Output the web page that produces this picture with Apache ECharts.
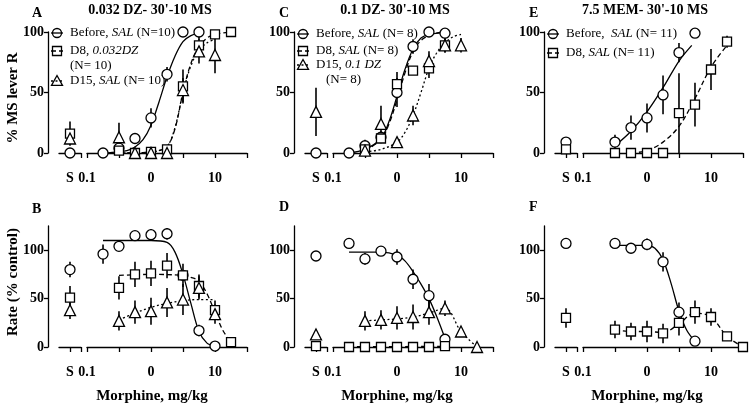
<!DOCTYPE html>
<html><head><meta charset="utf-8">
<script src="https://cdn.jsdelivr.net/npm/echarts@6/dist/echarts.min.js"></script>
<style>html,body{margin:0;padding:0;background:#fff}#c{width:750px;height:409px}</style>
</head><body><div id="c"></div>
<script>
// ---------- shared axis data ----------
const doses = [0.178, 0.316, 0.562, 1, 1.78, 3.16, 5.62, 10, 17.8, 31.6];
const xTickValues = [0.1, 1, 10];
const xTickLabels = ['0.1', '0', '10'];
const xTickMarks = [0.1, 0.316, 1, 3.16, 10, 31.6];
const yTickValues = [0, 50, 100];
const sLabel = 'S';
const panelLetters = ['A', 'B', 'C', 'D', 'E', 'F'];
const panelTitles = ["0.032 DZ- 30'-10 MS", "0.1 DZ- 30'-10 MS", "7.5 MEM- 30'-10 MS"];
const yTitles = ['% MS lever R', 'Rate (% control)'];
const xTitle = 'Morphine, mg/kg';

// ---------- Panel A ----------
const aBeforeS = [0, 0];
const aBeforeX = [0.178, 0.316, 0.562, 1, 1.78, 3.16, 5.62];
const aBeforeY = [0, 4, 12, 29, 65, 100, 100];
const aBeforeE = [0, 0, 4, 8, 6, 0, 0];
const aBeforeFitX = [0.178, 0.316, 0.42, 0.562, 0.75, 1, 1.33, 1.78, 2.37, 3.16, 4.2, 5.62];
const aBeforeFitY = [0, 1, 2, 5, 11, 23, 42, 63, 80, 92, 97, 99];
const aD8S = [16, 10];
const aD8X = [0.316, 0.562, 1, 1.78, 3.16, 5.62, 10, 17.8];
const aD8Y = [2, 0, 1, 3, 55, 89, 98, 100];
const aD8E = [0, 0, 0, 0, 14, 8, 3, 0];
const aD8FitX = [0.316, 0.562, 1, 1.33, 1.78, 2.37, 3.16, 4.2, 5.62, 7.5, 10, 17.8];
const aD8FitY = [0, 0, 1, 2, 5, 20, 50, 74, 88, 95, 98, 100];
const aD15S = [12, 5];
const aD15X = [0.316, 0.562, 1, 1.78, 3.16, 5.62, 10];
const aD15Y = [13, 0, 0, 0, 52, 84, 81];
const aD15E = [12, 0, 0, 0, 10, 10, 15];
const aD15FitX = [0.316, 0.562, 1, 1.33, 1.78, 2.37, 3.16, 4.2, 5.62, 7.5, 10];
const aD15FitY = [0, 0, 1, 2, 5, 21, 50, 72, 85, 91, 94];

// ---------- Panel B ----------
const bBeforeS = [80, 8];
const bBeforeX = [0.178, 0.316, 0.562, 1, 1.78, 3.16, 5.62, 10];
const bBeforeY = [96, 104, 115, 116, 117, 74, 17, 1];
const bBeforeE = [10, 3, 4, 6, 6, 0, 6, 0];
const bBeforeFitX = [0.178, 0.562, 1, 1.78, 2.37, 3.16, 4.2, 5.62, 7.5, 10];
const bBeforeFitY = [110, 110, 110, 108, 98, 75, 45, 16, 4, 1];
const bD8S = [51, 12];
const bD8X = [0.316, 0.562, 1, 1.78, 3.16, 5.62, 10, 17.8];
const bD8Y = [61, 75, 76, 84, 74, 63, 38, 5];
const bD8E = [12, 13, 13, 13, 12, 12, 10, 0];
const bD8FitX = [0.316, 1, 3.16, 4.2, 5.62, 7.5, 10, 13.3, 17.8];
const bD8FitY = [74, 75, 74, 72, 68, 55, 36, 17, 5];
const bD15S = [38, 9];
const bD15X = [0.316, 0.562, 1, 1.78, 3.16, 5.62, 10];
const bD15Y = [27, 36, 37, 46, 49, 61, 34];
const bD15E = [10, 12, 14, 15, 16, 12, 10];
const bD15FitX = [0.316, 0.562, 1, 1.78, 3.16, 5.62, 10];
const bD15FitY = [28, 35, 41, 45, 48, 49, 49];

// ---------- Panel C ----------
const cBeforeS = [0, 0];
const cBeforeX = [0.178, 0.316, 0.562, 1, 1.78, 3.16, 5.62];
const cBeforeY = [0, 6, 13, 50, 88, 100, 99];
const cBeforeE = [0, 5, 5, 12, 6, 0, 0];
const cBeforeFitX = [0.178, 0.316, 0.562, 0.75, 1, 1.33, 1.78, 2.37, 3.16, 4.2, 5.62];
const cBeforeFitY = [0, 3, 12, 26, 47, 69, 86, 95, 98, 99, 100];
const cD8X = [0.316, 0.562, 1, 1.78, 3.16, 5.62];
const cD8Y = [3, 12, 57, 68, 70, 89];
const cD8E = [0, 0, 10, 0, 8, 6];
const cD8FitX = [0.316, 0.562, 0.75, 1, 1.33, 1.78, 2.37, 3.16, 4.2, 5.62];
const cD8FitY = [2, 11, 24, 44, 66, 84, 93, 97, 99, 100];
const cD15S = [34, 20];
const cD15X = [0.316, 0.562, 1, 1.78, 3.16, 5.62, 10];
const cD15Y = [2, 24, 9, 31, 76, 89, 89];
const cD15E = [0, 15, 3, 8, 8, 6, 6];
const cD15FitX = [0.316, 0.562, 1, 1.33, 1.78, 2.37, 3.16, 4.2, 5.62, 7.5, 10];
const cD15FitY = [1, 3, 9, 17, 31, 50, 70, 83, 91, 96, 98];

// ---------- Panel D ----------
const dBeforeS = [94, 0];
const dBeforeX = [0.178, 0.316, 0.562, 1, 1.78, 3.16, 5.62];
const dBeforeY = [107, 91, 99, 93, 70, 53, 8];
const dBeforeE = [0, 6, 0, 8, 10, 12, 3];
const dBeforeFitX = [0.178, 0.316, 0.562, 1, 1.33, 1.78, 2.37, 3.16, 4.2, 5.62];
const dBeforeFitY = [98, 98, 98, 95, 89, 78, 65, 50, 31, 9];
const dD8S = [1, 0];
const dD8X = [0.178, 0.316, 0.562, 1, 1.78, 3.16, 5.62];
const dD8Y = [0, 0, 0, 0, 0, 0, 1];
const dD8E = [0, 0, 0, 0, 0, 0, 0];
const dD8FitX = [0.178, 5.62];
const dD8FitY = [0.3, 0.6];
const dD15S = [13, 5];
const dD15X = [0.316, 0.562, 1, 1.78, 3.16, 5.62, 10, 17.8];
const dD15Y = [27, 28, 30, 31, 36, 40, 16, 0];
const dD15E = [10, 10, 12, 13, 13, 8, 0, 0];
const dD15FitX = [0.316, 0.562, 1, 1.78, 3.16, 5.62, 10, 17.8];
const dD15FitY = [27, 28, 29, 31, 35, 40, 16, 0];

// ---------- Panel E ----------
const eBeforeS = [9, 3];
const eBeforeX = [0.316, 0.562, 1, 1.78, 3.16, 5.62];
const eBeforeY = [9, 21, 29, 48, 83, 99];
const eBeforeE = [6, 10, 12, 16, 8, 0];
const eBeforeFitX = [0.316, 0.562, 1, 1.78, 3.16, 5.0];
const eBeforeFitY = [6, 18, 34, 54, 76, 89];
const eD8S = [3, 0];
const eD8X = [0.316, 0.562, 1, 1.78, 3.16, 5.62, 10, 17.8];
const eD8Y = [0, 0, 0, 0, 33, 40, 69, 92];
const eD8E = [0, 0, 0, 0, 33, 18, 17, 5];
const eD8FitX = [0.562, 1, 1.78, 3.16, 5.62, 10, 17.8];
const eD8FitY = [0, 2, 9, 22, 45, 71, 89];

// ---------- Panel F ----------
const fBeforeS = [107, 0];
const fBeforeX = [0.316, 0.562, 1, 1.78, 3.16, 5.62];
const fBeforeY = [107, 102, 106, 88, 36, 6];
const fBeforeE = [0, 0, 6, 10, 10, 0];
const fBeforeFitX = [0.316, 0.562, 1, 1.33, 1.78, 2.37, 3.16, 4.2, 5.62];
const fBeforeFitY = [105, 105, 105, 102, 90, 66, 37, 17, 6];
const fD8S = [30, 10];
const fD8X = [0.316, 0.562, 1, 1.78, 3.16, 5.62, 10, 17.8, 31.6];
const fD8Y = [18, 16, 16, 14, 25, 36, 31, 11, 0];
const fD8E = [9, 9, 11, 10, 13, 12, 9, 4, 0];
const fD8FitX = [0.316, 0.562, 1, 1.78, 3.16, 5.62, 10, 17.8, 31.6];
const fD8FitY = [18, 16, 16, 15, 24, 35, 31, 11, 0];

// ---------- layout / styles ----------
const FONT = 'Liberation Serif';
const cols = [{axisX: 48, sLeft: 59, mLeft: 87}, {axisX: 294, sLeft: 305, mLeft: 333}, {axisX: 544, sLeft: 555, mLeft: 583}];
const rows = [{top: 32, h: 121, max: 100}, {top: 226, h: 121, max: 125}];
const M_W = 160, S_W = 22;
const STY = {
  before: {symbol: 'circle', size: 10, dash: 'solid'},
  d8: {symbol: 'rect', size: 9, dash: [5, 3]},
  d15: {symbol: 'triangle', size: 11, dash: [2, 2.5]}
};
const zip = (a, b) => a.map((v, i) => [v, b[i]]);
const zip3 = (a, b, c) => a.map((v, i) => [v, b[i], c[i]]);
function grp(kind, s, x, y, e, fx, fy) { return {kind, s, x, y, e, fx, fy}; }

const panels = [
  {row: 0, col: 0, groups: [
    grp('before', aBeforeS, aBeforeX, aBeforeY, aBeforeE, aBeforeFitX, aBeforeFitY),
    grp('d8', aD8S, aD8X, aD8Y, aD8E, aD8FitX, aD8FitY),
    grp('d15', aD15S, aD15X, aD15Y, aD15E, aD15FitX, aD15FitY)]},
  {row: 1, col: 0, groups: [
    grp('before', bBeforeS, bBeforeX, bBeforeY, bBeforeE, bBeforeFitX, bBeforeFitY),
    grp('d8', bD8S, bD8X, bD8Y, bD8E, bD8FitX, bD8FitY),
    grp('d15', bD15S, bD15X, bD15Y, bD15E, bD15FitX, bD15FitY)]},
  {row: 0, col: 1, groups: [
    grp('before', cBeforeS, cBeforeX, cBeforeY, cBeforeE, cBeforeFitX, cBeforeFitY),
    grp('d8', null, cD8X, cD8Y, cD8E, cD8FitX, cD8FitY),
    grp('d15', cD15S, cD15X, cD15Y, cD15E, cD15FitX, cD15FitY)]},
  {row: 1, col: 1, groups: [
    grp('before', dBeforeS, dBeforeX, dBeforeY, dBeforeE, dBeforeFitX, dBeforeFitY),
    grp('d8', dD8S, dD8X, dD8Y, dD8E, dD8FitX, dD8FitY),
    grp('d15', dD15S, dD15X, dD15Y, dD15E, dD15FitX, dD15FitY)]},
  {row: 0, col: 2, groups: [
    grp('before', eBeforeS, eBeforeX, eBeforeY, eBeforeE, eBeforeFitX, eBeforeFitY),
    grp('d8', eD8S, eD8X, eD8Y, eD8E, eD8FitX, eD8FitY)]},
  {row: 1, col: 2, groups: [
    grp('before', fBeforeS, fBeforeX, fBeforeY, fBeforeE, fBeforeFitX, fBeforeFitY),
    grp('d8', fD8S, fD8X, fD8Y, fD8E, fD8FitX, fD8FitY)]}
];

const lbl = {color: '#000', fontFamily: FONT, fontWeight: 'bold', fontSize: 14};
const axLine = {lineStyle: {color: '#000', width: 1.3}};

function errRender(params, api) {
  const x = api.value(0), y = api.value(1), e = api.value(2);
  if (!e) return null;
  const p1 = api.coord([x, y + e]);
  const p2 = api.coord([x, y - e]);
  return {type: 'line', shape: {x1: p1[0], y1: p1[1], x2: p2[0], y2: p2[1]},
    style: {stroke: '#000', lineWidth: 1.6}};
}

const grid = [], xAxis = [], yAxis = [], series = [];
panels.forEach((p, pi) => {
  const c = cols[p.col], r = rows[p.row];
  const mi = grid.length, si = mi + 1;
  grid.push({left: c.mLeft, top: r.top, width: M_W, height: r.h});
  grid.push({left: c.sLeft, top: r.top, width: S_W, height: r.h});
  xAxis.push({gridIndex: mi, type: 'log', logBase: 10, min: 0.1, max: 31.62, offset: 12,
    axisLine: axLine, splitLine: {show: false},
    axisTick: {customValues: xTickMarks, length: 5, lineStyle: {color: '#000', width: 1.3}},
    axisLabel: Object.assign({customValues: xTickValues, margin: 6,
      formatter: v => xTickLabels[Math.round(Math.log10(v)) + 1]}, lbl)});
  xAxis.push({gridIndex: si, type: 'value', min: 0, max: 2, offset: 12,
    axisLine: axLine, splitLine: {show: false},
    axisTick: {customValues: [1, 2], length: 5, lineStyle: {color: '#000', width: 1.3}},
    axisLabel: Object.assign({customValues: [1], margin: 6, formatter: () => sLabel}, lbl)});
  yAxis.push({gridIndex: mi, type: 'value', min: 0, max: r.max, position: 'left', offset: c.mLeft - c.axisX,
    axisLine: {show: true, lineStyle: {color: '#000', width: 1.3}}, splitLine: {show: false},
    axisTick: {show: true, customValues: yTickValues, length: 4, lineStyle: {color: '#000', width: 1.3}},
    axisLabel: Object.assign({customValues: yTickValues, margin: 4}, lbl)});
  yAxis.push({gridIndex: si, type: 'value', min: 0, max: r.max, show: false});

  p.groups.forEach(g => {
    const st = STY[g.kind];
    series.push({type: 'line', xAxisIndex: mi, yAxisIndex: mi, data: zip(g.fx, g.fy),
      smooth: 0.35, symbol: 'none', clip: false, z: 3, silent: true,
      lineStyle: {color: '#000', width: 1.3, type: st.dash}});
    series.push({type: 'custom', xAxisIndex: mi, yAxisIndex: mi, data: zip3(g.x, g.y, g.e),
      renderItem: errRender, clip: false, z: 2, encode: {x: 0, y: 1}, silent: true});
    series.push({type: 'scatter', xAxisIndex: mi, yAxisIndex: mi, data: zip(g.x, g.y),
      symbol: st.symbol, symbolSize: st.size, clip: false, z: 4,
      itemStyle: {color: '#fff', borderColor: '#000', borderWidth: 1.3, opacity: 1}});
    if (g.s) {
      series.push({type: 'custom', xAxisIndex: si, yAxisIndex: si, data: [[1, g.s[0], g.s[1]]],
        renderItem: errRender, clip: false, z: 2, encode: {x: 0, y: 1}, silent: true});
      series.push({type: 'scatter', xAxisIndex: si, yAxisIndex: si, data: [[1, g.s[0]]],
        symbol: st.symbol, symbolSize: st.size, clip: false, z: 4,
        itemStyle: {color: '#fff', borderColor: '#000', borderWidth: 1.3, opacity: 1}});
    }
  });
});

// ---------- text & legends (graphic) ----------
const graphic = [];
const txt = (x, y, text, size, opts) => Object.assign({type: 'text', x, y, silent: true,
  style: Object.assign({text, fill: '#000', font: 'bold ' + size + 'px "' + FONT + '"', verticalAlign: 'middle', align: 'left'}, (opts && opts.style) || {})},
  (opts && opts.el) || {});
const letterPos = [[32, 13], [32, 209], [279, 13], [279, 207], [529, 13], [529, 207]];
letterPos.forEach((lp, i) => graphic.push(txt(lp[0], lp[1], panelLetters[i], 14)));
[150, 395, 645].forEach((cx, i) => graphic.push(txt(cx, 10, panelTitles[i], 14, {style: {align: 'center'}})));
graphic.push(txt(13, 98, yTitles[0], 15, {style: {align: 'center'}, el: {rotation: Math.PI / 2}}));
graphic.push(txt(13, 282, yTitles[1], 15, {style: {align: 'center'}, el: {rotation: Math.PI / 2}}));
[152, 397, 647].forEach(cx => graphic.push(txt(cx, 396, xTitle, 15, {style: {align: 'center'}})));

function legendItem(ax, y, kind, richText) {
  const sx = ax + 9, st = STY[kind];
  graphic.push({type: 'line', silent: true, shape: {x1: sx - 6, y1: y, x2: sx + 6, y2: y},
    style: {stroke: '#000', lineWidth: 1.3, lineDash: st.dash === 'solid' ? null : st.dash}});
  const r = st.size / 2;
  let shape;
  if (kind === 'before') shape = {type: 'circle', shape: {cx: sx, cy: y, r: r - 0.5}};
  else if (kind === 'd8') shape = {type: 'rect', shape: {x: sx - r, y: y - r, width: st.size, height: st.size}};
  else shape = {type: 'polygon', shape: {points: [[sx, y - r], [sx + r, y + r * 0.8], [sx - r, y + r * 0.8]]}};
  shape.silent = true;
  shape.style = {fill: 'none', stroke: '#000', lineWidth: 1.3};
  graphic.push(shape);
  if (richText) legendText(ax + 22, y, richText);
}
function legendText(x, y, t) {
  graphic.push({type: 'text', x, y, silent: true, style: {text: t, fill: '#000',
    font: '13px "' + FONT + '"', verticalAlign: 'middle',
    rich: {i: {fontStyle: 'italic', fontFamily: FONT, fontSize: 13, fill: '#000'}}}});
}
legendItem(48, 33, 'before', 'Before, {i|SAL} (N=10)');
legendItem(48, 51, 'd8', 'D8, {i|0.032DZ}');
legendText(70, 66, '(N= 10)');
legendItem(48, 81, 'd15', 'D15, {i|SAL} (N= 10)');
legendItem(294, 34, 'before', 'Before, {i|SAL} (N= 8)');
legendItem(294, 51, 'd8', 'D8, {i|SAL} (N= 8)');
legendItem(294, 65, 'd15', 'D15, {i|0.1 DZ}');
legendText(326, 80, '(N= 8)');
legendItem(544, 34, 'before', 'Before,  {i|SAL} (N= 11)');
legendItem(544, 53, 'd8', 'D8, {i|SAL} (N= 11)');

const chart = echarts.init(document.getElementById('c'), null, {renderer: 'canvas'});
chart.setOption({animation: false, backgroundColor: '#fff', grid, xAxis, yAxis, series, graphic});
</script></body></html>
